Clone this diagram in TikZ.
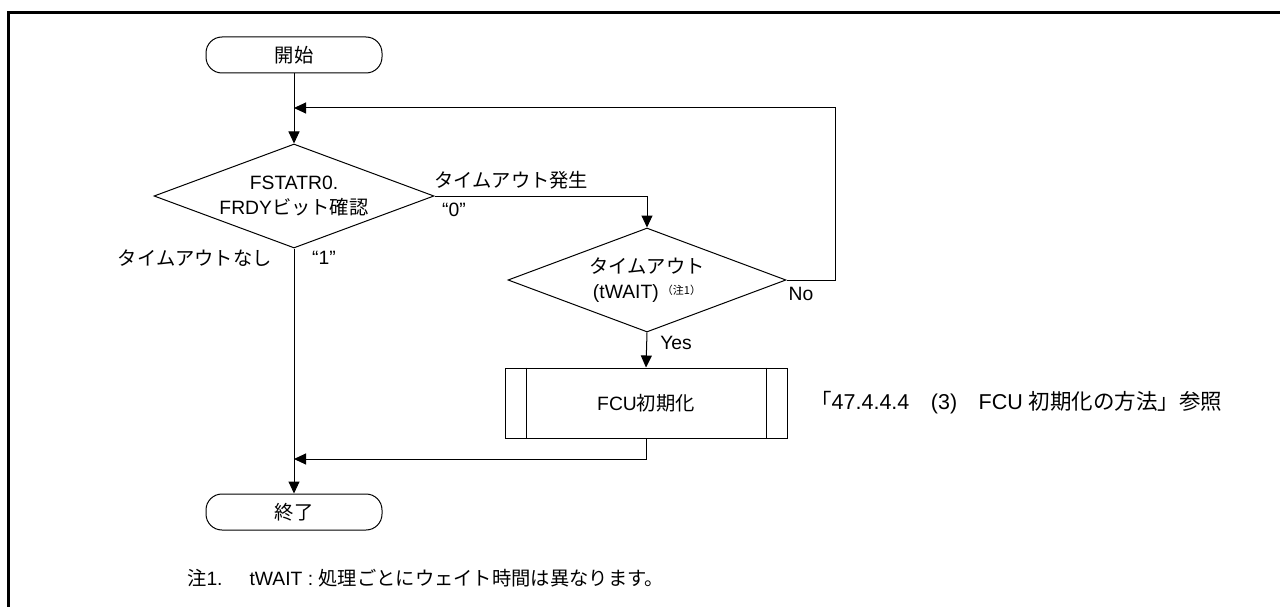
\documentclass[tikz,border=0pt]{standalone}
\usepackage{fontspec}
\setmainfont{Liberation Sans}
\newfontfamily\jpfont{Noto Sans CJK JP}
\newcommand{\jtxt}[1]{{\jpfont #1}}
\usetikzlibrary{arrows.meta,shapes.geometric,calc}
\begin{document}
\begin{tikzpicture}[x=1pt,y=-1pt,
  every node/.style={font=\fontsize{19.3}{25}\selectfont},
  line/.style={draw=black,line width=1pt},
  arr/.style={line,-{Triangle[length=12pt,width=11pt]}},
  term/.style={draw,line width=1pt,rounded corners=16pt,minimum width=176pt,minimum height=36pt,inner sep=0pt},
  dec/.style={draw,line width=1pt,diamond,aspect=2.7,minimum width=280pt,minimum height=104pt,inner sep=0pt,align=center},
  proc/.style={draw,line width=1pt,minimum width=282pt,minimum height=70pt,inner sep=0pt},
  lbl/.style={inner sep=0pt}
]
\useasboundingbox (0,0) rectangle (1280,607);
\fill[white] (0,0) rectangle (1280,607);
% frame
\draw[line width=3pt] (8.5,607) -- (8.5,12.5) -- (1280,12.5);

% nodes
\node[term] (start) at (294,55) {\jtxt{開始}};
\node[dec] (d1) at (294,196) {FSTATR0.\\FRDY\jtxt{ビット確認}};
\node[dec,minimum width=278pt] (d2) at (647,280) {\jtxt{タイムアウト}\\(tWAIT)\,\raisebox{4pt}{\fontsize{11}{11}\selectfont\jtxt{（注1）}}};
\node[proc] (fcu) at (646,403) {FCU\jtxt{初期化}};
\draw[line width=1pt] ([xshift=22pt]fcu.north west) -- ([xshift=22pt]fcu.south west);
\draw[line width=1pt] ([xshift=-21pt]fcu.north east) -- ([xshift=-21pt]fcu.south east);
\node[term] (end) at (294,512) {\jtxt{終了}};

\coordinate (j1) at (294,108);
\coordinate (j2) at (294,459);
\coordinate (lc) at (835,280);

% connectors
\draw[arr] (start.south) -- (d1.north);
\draw[arr] (d1.east) -| (d2.north);
\draw[arr] (d2.east) -- (lc) |- (j1);
\draw[arr] (d2.south) -- (fcu.north);
\draw[arr] (d1.south) -- (end.north);
\draw[arr] (fcu.south) |- (j2);

% labels
\node[lbl,anchor=west] (l1) at (434,180) {\jtxt{タイムアウト発生}};
\node[lbl] (l0) at (454,210) {“0”};
\node[lbl] (l1v) at (324,258) {“1”};
\node[lbl,anchor=east] (lnone) at (272,258) {\jtxt{タイムアウトなし}};
\node[lbl] (lno) at (801,294) {No};
\node[lbl] (lyes) at (676,343) {Yes};
\node[lbl,anchor=west,font=\fontsize{21.5}{25}\selectfont] (ref) at (810,403) {\jtxt{「}47.4.4.4\jtxt{　}(3)\jtxt{　}FCU \jtxt{初期化の方法」参照}};
\node[lbl,anchor=west] (note) at (187,578) {\jtxt{注}1.\hspace{27pt}tWAIT : \jtxt{処理ごとにウェイト時間は異なります。}};
\end{tikzpicture}
\end{document}
